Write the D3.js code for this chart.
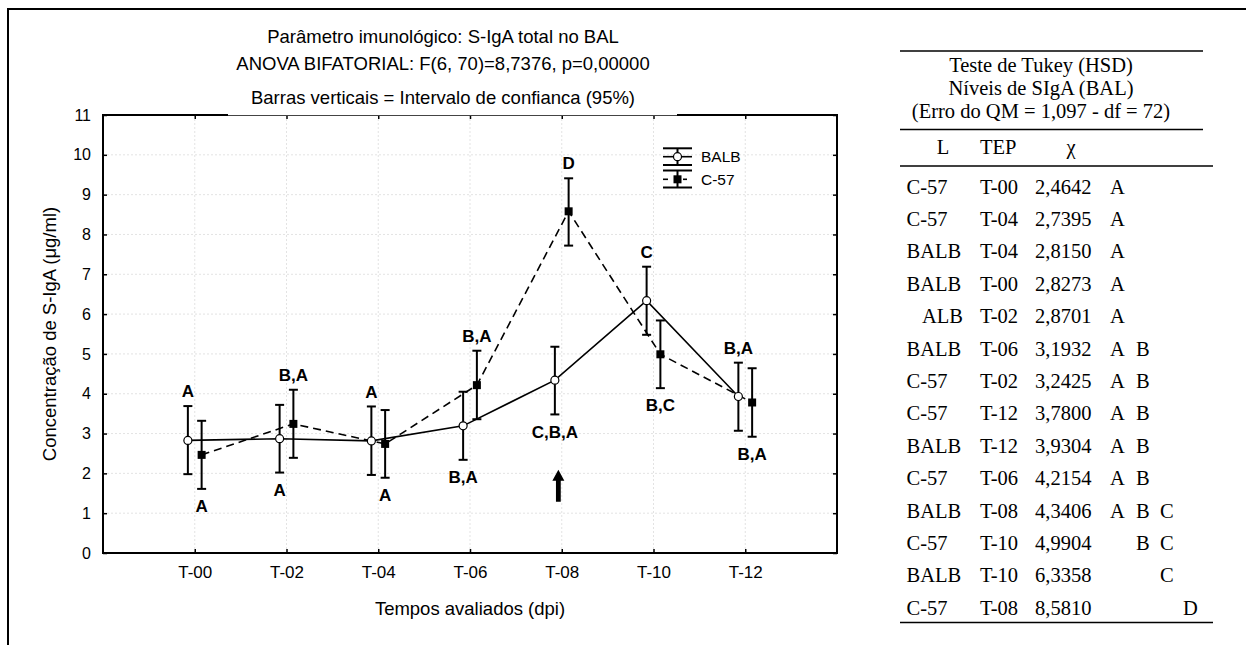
<!DOCTYPE html>
<html><head><meta charset="utf-8">
<script src="https://cdn.jsdelivr.net/npm/d3@7"></script>
<style>html,body{margin:0;padding:0;background:#fff;} svg{display:block;}</style>
</head><body><svg id="c" width="1246" height="645"></svg>
<script>
// ---------------- data ----------------
const categories = ["T-00", "T-02", "T-04", "T-06", "T-08", "T-10", "T-12"];
const seriesNames = ["BALB", "C-57"];
const balbMean = [2.8273, 2.8701, 2.8150, 3.1932, 4.3406, 6.3358, 3.9304];
const balbLow  = [1.98, 2.02, 1.96, 2.34, 3.48, 5.48, 3.07];
const balbHigh = [3.69, 3.72, 3.68, 4.05, 5.18, 7.19, 4.78];
const c57Mean  = [2.4642, 3.2425, 2.7395, 4.2154, 8.5810, 4.9904, 3.7800];
const c57Low   = [1.61, 2.39, 1.89, 3.36, 7.72, 4.14, 2.92];
const c57High  = [3.32, 4.10, 3.59, 5.08, 9.41, 5.84, 4.64];
const yTickValues = [0, 1, 2, 3, 4, 5, 6, 7, 8, 9, 10, 11];

const annotText   = ["A", "A", "B,A", "A", "A", "A", "B,A", "B,A", "D", "C,B,A", "C", "B,C", "B,A", "B,A"];
const annotCat    = ["T-00", "T-00", "T-02", "T-02", "T-04", "T-04", "T-06", "T-06", "T-08", "T-08", "T-10", "T-10", "T-12", "T-12"];
const annotSeries = ["BALB", "C-57", "C-57", "BALB", "BALB", "C-57", "C-57", "BALB", "C-57", "BALB", "BALB", "C-57", "BALB", "C-57"];
const annotSide   = ["above", "below", "above", "below", "above", "below", "above", "below", "above", "below", "above", "below", "above", "below"];

const arrowCat = "T-08";
const arrowFrom = 1.29, arrowTo = 2.09;

const titleLines = [
  "Parâmetro imunológico: S-IgA total no BAL",
  "ANOVA BIFATORIAL: F(6, 70)=8,7376, p=0,00000",
  "Barras verticais = Intervalo de confianca (95%)"
];
const xTitle = "Tempos avaliados (dpi)";
const yTitle = "Concentração de S-IgA (μg/ml)";

const tableTitle = ["Teste de Tukey (HSD)", "Níveis de SIgA (BAL)", "(Erro do QM = 1,097 - df = 72)"];
const tableHeader = ["L", "TEP", "χ"];
const tableL    = ["C-57", "C-57", "BALB", "BALB", "\u00a0\u00a0\u00a0ALB", "BALB", "C-57", "C-57", "BALB", "C-57", "BALB", "C-57", "BALB", "C-57"];
const tableTEP  = ["T-00", "T-04", "T-04", "T-00", "T-02", "T-06", "T-02", "T-12", "T-12", "T-06", "T-08", "T-10", "T-10", "T-08"];
const tableMean = ["2,4642", "2,7395", "2,8150", "2,8273", "2,8701", "3,1932", "3,2425", "3,7800", "3,9304", "4,2154", "4,3406", "4,9904", "6,3358", "8,5810"];
const tableGroups = [["A"], ["A"], ["A"], ["A"], ["A"], ["A","B"], ["A","B"], ["A","B"], ["A","B"], ["A","B"], ["A","B","C"], ["B","C"], ["C"], ["D"]];

// ---------------- layout ----------------
const SANS = "'Liberation Sans', Arial, sans-serif";
const SERIF = "'Liberation Serif', 'Times New Roman', serif";
const svg = d3.select("#c");
const P = {left: 103, right: 837, top: 115, bottom: 553};
const x = d3.scaleLinear().domain([-1, categories.length]).range([P.left, P.right]);
const y = d3.scaleLinear().domain([0, 11]).range([P.bottom, P.top]);
const catIdx = c => categories.indexOf(c);
const OFF = 0.075;
const series = {
  "BALB": {mean: balbMean, low: balbLow, high: balbHigh, off: -OFF},
  "C-57": {mean: c57Mean, low: c57Low, high: c57High, off: OFF}
};

// outer frame
svg.append("path").attr("d", "M8,645 V9 H1246").attr("fill", "none").attr("stroke", "#000").attr("stroke-width", 2);

// grid
const grid = svg.append("g");
grid.selectAll("line.gx").data(d3.range(categories.length)).join("line")
  .attr("x1", d => x(d)).attr("x2", d => x(d)).attr("y1", P.top).attr("y2", P.bottom)
  .attr("stroke", "#dcdcdc").attr("stroke-width", 0.8).attr("stroke-dasharray", "2,2");
grid.selectAll("line.gy").data(yTickValues.slice(1, -1)).join("line")
  .attr("x1", P.left).attr("x2", P.right).attr("y1", d => y(d)).attr("y2", d => y(d))
  .attr("stroke", "#dcdcdc").attr("stroke-width", 0.8).attr("stroke-dasharray", "2,2");

// axes
const xAxis = d3.axisBottom(x).tickValues(d3.range(categories.length)).tickFormat(i => categories[i])
  .tickSizeInner(-4).tickSizeOuter(0).tickPadding(13);
const gx = svg.append("g").attr("transform", `translate(0,${P.bottom})`).call(xAxis);
const yAxis = d3.axisLeft(y).tickValues(yTickValues).tickFormat(d3.format("d"))
  .tickSizeInner(-4).tickSizeOuter(0).tickPadding(12);
const gy = svg.append("g").attr("transform", `translate(${P.left},0)`).call(yAxis);
const gt = svg.append("g").attr("transform", `translate(0,${P.top})`)
  .call(d3.axisTop(x).tickValues(d3.range(categories.length)).tickFormat("").tickSizeInner(-4).tickSizeOuter(0));
const gr = svg.append("g").attr("transform", `translate(${P.right},0)`)
  .call(d3.axisRight(y).tickValues(yTickValues).tickFormat("").tickSizeInner(-4).tickSizeOuter(0));
[gx, gy, gt, gr].forEach(g => {
  g.select(".domain").remove();
  g.selectAll(".tick line").attr("stroke", "#000").attr("stroke-width", 1.5);
});
gx.selectAll("text").attr("font-family", SANS).attr("font-size", 17).attr("fill", "#000");
gy.selectAll("text").attr("font-family", SANS).attr("font-size", 16).attr("fill", "#000");

// frame of plot
const fr = svg.append("g").attr("stroke", "#000").attr("fill", "none");
fr.append("path").attr("d", `M${P.left},${P.top - 1} V${P.bottom} H${P.right} V${P.top - 1}`).attr("stroke-width", 2);
fr.append("line").attr("x1", P.left - 1).attr("x2", 228).attr("y1", P.top).attr("y2", P.top).attr("stroke-width", 2);
fr.append("line").attr("x1", 677).attr("x2", P.right + 1).attr("y1", P.top).attr("y2", P.top).attr("stroke-width", 2);
fr.append("line").attr("x1", 228).attr("x2", 677).attr("y1", P.top + 0.5).attr("y2", P.top + 0.5).attr("stroke-width", 1).attr("stroke", "#444");

// titles
titleLines.forEach((t, i) => {
  svg.append("text").attr("x", 443).attr("y", [43, 70, 104][i]).attr("text-anchor", "middle")
    .attr("font-family", SANS).attr("font-size", 18.5).text(t);
});
svg.append("text").attr("x", (P.left + P.right) / 2).attr("y", 615).attr("text-anchor", "middle")
  .attr("font-family", SANS).attr("font-size", 18.5).text(xTitle);
svg.append("text").attr("transform", `translate(56,${(P.top + P.bottom) / 2}) rotate(-90)`)
  .attr("text-anchor", "middle").attr("font-family", SANS).attr("font-size", 18.5).text(yTitle);

// series lines
const plot = svg.append("g");
const dashes = {"BALB": null, "C-57": "8,5"};
seriesNames.forEach(name => {
  const s = series[name];
  const line = d3.line().x((d, i) => x(i + s.off)).y(d => y(d));
  plot.append("path").datum(s.mean).attr("d", line).attr("fill", "none")
    .attr("stroke", "#000").attr("stroke-width", 1.6).attr("stroke-dasharray", dashes[name]);
});
// error bars
seriesNames.forEach(name => {
  const s = series[name];
  const g = plot.append("g").attr("stroke", "#000").attr("stroke-width", 2);
  s.mean.forEach((m, i) => {
    const cx = x(i + s.off);
    g.append("line").attr("x1", cx).attr("x2", cx).attr("y1", y(s.low[i])).attr("y2", y(s.high[i]));
    g.append("line").attr("x1", cx - 4.5).attr("x2", cx + 4.5).attr("y1", y(s.low[i])).attr("y2", y(s.low[i]));
    g.append("line").attr("x1", cx - 4.5).attr("x2", cx + 4.5).attr("y1", y(s.high[i])).attr("y2", y(s.high[i]));
  });
});
// markers
function marker(g, name, cx, cy) {
  if (name === "BALB") g.append("circle").attr("cx", cx).attr("cy", cy).attr("r", 4)
    .attr("fill", "#fff").attr("stroke", "#000").attr("stroke-width", 1.2);
  else g.append("rect").attr("x", cx - 4).attr("y", cy - 4).attr("width", 8).attr("height", 8).attr("fill", "#000");
}
seriesNames.forEach(name => {
  const s = series[name];
  s.mean.forEach((m, i) => marker(plot, name, x(i + s.off), y(m)));
});

// annotations
annotText.forEach((t, k) => {
  const s = series[annotSeries[k]];
  const i = catIdx(annotCat[k]);
  const cx = x(i + s.off);
  const cy = annotSide[k] === "above" ? y(s.high[i]) - 15 : y(s.low[i]) + 17;
  plot.append("text").attr("x", cx).attr("y", cy).attr("dy", "0.36em").attr("text-anchor", "middle")
    .attr("font-family", SANS).attr("font-weight", "bold").attr("font-size", 17).text(t);
});

// arrow
{
  const ax = x(catIdx(arrowCat) - 0.037);
  const yt = y(arrowTo), yb = y(arrowFrom);
  const hh = 11, hw = 6, sw = 2.4;
  svg.append("path").attr("fill", "#000")
    .attr("d", `M${ax},${yt} L${ax + hw},${yt + hh} L${ax + sw},${yt + hh} L${ax + sw},${yb} L${ax - sw},${yb} L${ax - sw},${yt + hh} L${ax - hw},${yt + hh} Z`);
}

// legend
{
  const lg = svg.append("g").attr("transform", "translate(663,0)");
  const rows = [{name: "BALB", top: 148.3, mid: 156.7, bot: 165}, {name: "C-57", top: 170.5, mid: 179.3, bot: 187.5}];
  rows.forEach(r => {
    const g = lg.append("g").attr("stroke", "#000");
    g.append("line").attr("x1", 0).attr("x2", 29).attr("y1", r.top).attr("y2", r.top).attr("stroke-width", 2);
    g.append("line").attr("x1", 0).attr("x2", 29).attr("y1", r.bot).attr("y2", r.bot).attr("stroke-width", 2);
    g.append("line").attr("x1", 14.5).attr("x2", 14.5).attr("y1", r.top).attr("y2", r.bot).attr("stroke-width", 2);
    if (r.name === "BALB") {
      g.append("line").attr("x1", 0).attr("x2", 29).attr("y1", r.mid).attr("y2", r.mid).attr("stroke-width", 1.6);
    } else {
      g.append("line").attr("x1", 0).attr("x2", 5).attr("y1", r.mid).attr("y2", r.mid).attr("stroke-width", 1.6);
      g.append("line").attr("x1", 20).attr("x2", 24).attr("y1", r.mid).attr("y2", r.mid).attr("stroke-width", 1.6);
    }
    marker(lg, r.name, 14.5, r.mid);
    lg.append("text").attr("x", 38).attr("y", r.mid).attr("dy", "0.36em")
      .attr("font-family", SANS).attr("font-size", 15.5).text(r.name);
  });
}

// ---------------- table ----------------
{
  const tg = svg.append("g").attr("font-family", SERIF).attr("font-size", 20.5).attr("fill", "#000");
  const rule = (x1, x2, yy) => tg.append("line").attr("x1", x1).attr("x2", x2).attr("y1", yy).attr("y2", yy)
    .attr("stroke", "#000").attr("stroke-width", 1.6);
  rule(900, 1203, 51);
  rule(900, 1203, 129.5);
  rule(900, 1213, 166);
  rule(900, 1213, 622.5);
  tableTitle.forEach((t, i) => {
    tg.append("text").attr("x", 1041).attr("y", [72, 95, 118][i]).attr("text-anchor", "middle").text(t);
  });
  tg.append("text").attr("x", 943).attr("y", 153.5).attr("text-anchor", "middle").text(tableHeader[0]);
  tg.append("text").attr("x", 980).attr("y", 153.5).text(tableHeader[1]);
  tg.append("text").attr("x", 1071).attr("y", 153.5).attr("text-anchor", "middle").text(tableHeader[2]);
  const groupX = {A: 1110, B: 1136, C: 1160, D: 1183};
  tableL.forEach((l, i) => {
    const by = 193.5 + i * 32.4;
    tg.append("text").attr("x", 906.5).attr("y", by).text(l);
    tg.append("text").attr("x", 980).attr("y", by).text(tableTEP[i]);
    tg.append("text").attr("x", 1035).attr("y", by).text(tableMean[i]);
    tableGroups[i].forEach(gl => {
      tg.append("text").attr("x", groupX[gl]).attr("y", by).text(gl);
    });
  });
}
</script></body></html>
